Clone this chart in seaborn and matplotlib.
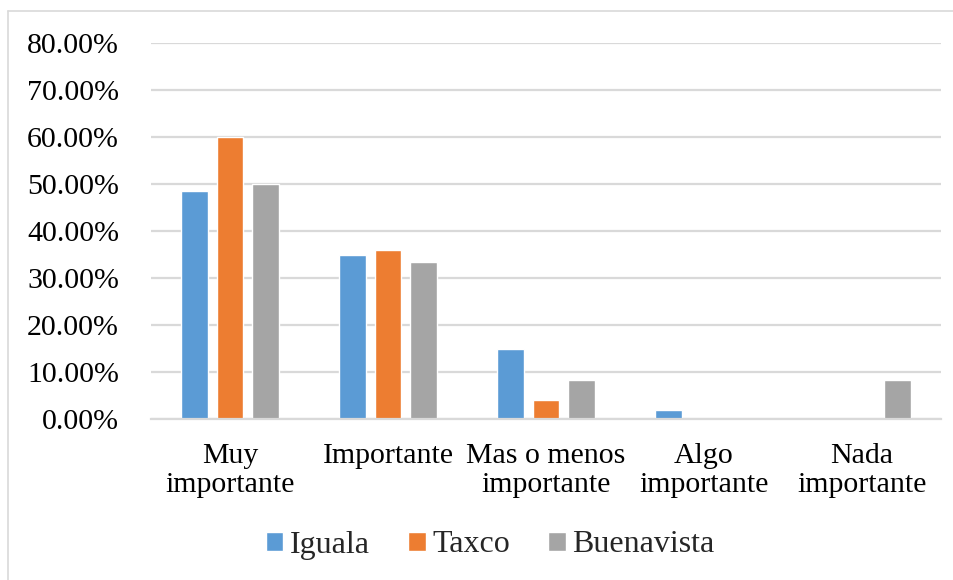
import matplotlib
matplotlib.use("Agg")
import matplotlib.pyplot as plt
from matplotlib.lines import Line2D
from matplotlib.ticker import FuncFormatter, MultipleLocator
import pandas as pd
import seaborn as sns

# Survey answers: share of respondents per town (percent)
categories = ["Muy\nimportante", "Importante", "Mas o menos\nimportante",
              "Algo\nimportante", "Nada\nimportante"]
towns = ["Iguala", "Taxco", "Buenavista"]
iguala = [48.5, 34.8, 14.8, 2.0, 0.0]
taxco = [60.0, 36.0, 4.0, 0.0, 0.0]
buenavista = [50.0, 33.3, 8.3, 0.0, 8.3]
colors = ["#5B9BD5", "#ED7D31", "#A5A5A5"]

df = pd.DataFrame({
    "categoria": categories * 3,
    "municipio": [t for t in towns for _ in categories],
    "valor": iguala + taxco + buenavista,
})

sns.set_theme(style="white")
plt.rcParams["font.family"] = ["Liberation Serif", "DejaVu Serif"]

fig = plt.figure(figsize=(9.54, 5.80), dpi=100)
ax = fig.add_axes([151 / 954, 1 - 419 / 580, (941 - 151) / 954, (419 - 43) / 580])

sns.barplot(data=df, x="categoria", y="valor", hue="municipio",
            order=categories, hue_order=towns, palette=colors,
            width=0.665, gap=0.23, saturation=1, ax=ax, legend=True)

ax.set_ylim(0, 80)
ax.set_xlim(-0.5, len(categories) - 0.5)
ax.yaxis.set_major_locator(MultipleLocator(10))
ax.yaxis.set_major_formatter(FuncFormatter(lambda v, _: f"{v:.2f}%"))
ax.grid(axis="y", color="#D9D9D9", linewidth=1.6)
ax.set_axisbelow(True)
for side in ("left", "right", "top"):
    ax.spines[side].set_visible(False)
ax.spines["bottom"].set_color("#D9D9D9")
ax.spines["bottom"].set_linewidth(1.6)
ax.set_xlabel("")
ax.set_ylabel("")
ax.tick_params(axis="y", length=0, pad=23, labelsize=21.5, labelcolor="black")
ax.tick_params(axis="x", length=0, pad=17.5, labelsize=21.5, labelcolor="black")
for lbl in ax.get_xticklabels():
    lbl.set_linespacing(1.12)

handles, labels = ax.get_legend_handles_labels()
ax.get_legend().remove()
fig.legend(handles, labels, loc="center", bbox_to_anchor=(490 / 954, 1 - 545 / 580),
           ncol=3, frameon=False, fontsize=23, handlelength=0.55, handleheight=0.55,
           handletextpad=0.2, columnspacing=1.2)

# Light frame around the chart area (top and left edges)
fig.add_artist(Line2D([8 / 954, 8 / 954], [0, 1 - 11 / 580], transform=fig.transFigure,
                      color="#D9D9D9", linewidth=1.2))
fig.add_artist(Line2D([8 / 954, 1], [1 - 11 / 580, 1 - 11 / 580], transform=fig.transFigure,
                      color="#D9D9D9", linewidth=1.2))

fig.savefig("out.png", dpi=100)
